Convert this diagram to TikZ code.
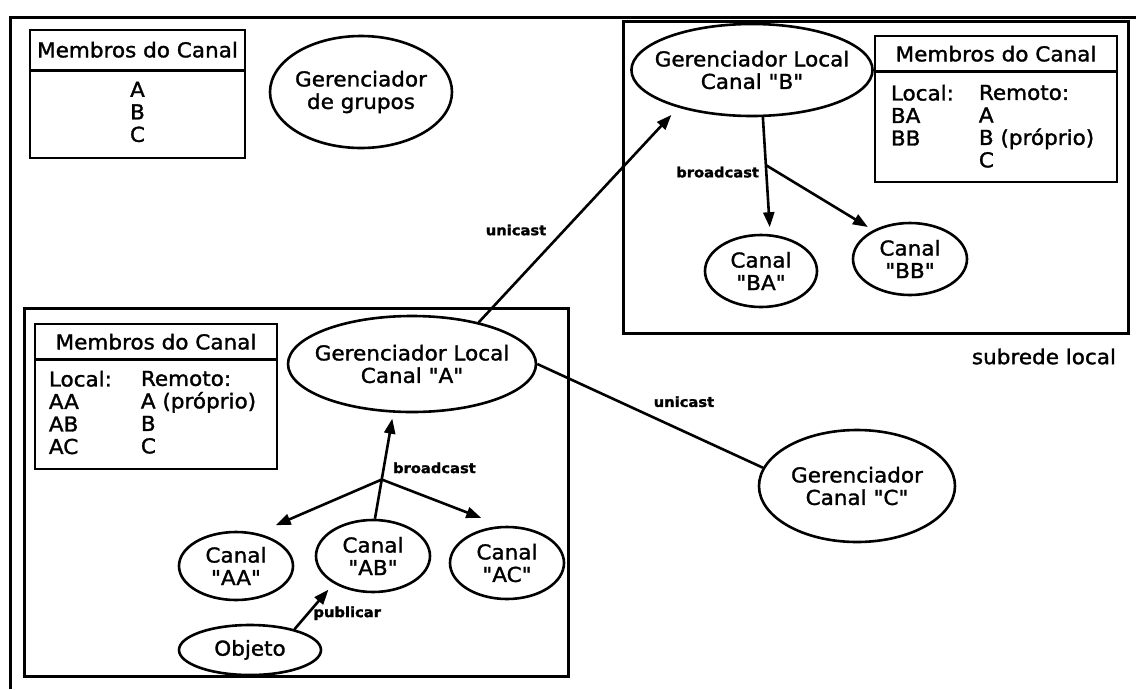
\documentclass[tikz,border=0pt]{standalone}
\usepackage{fontspec}
\setmainfont{DejaVu Sans}[Ligatures=TeXOff,FakeBold=1.5,FakeStretch=1.05]
\usetikzlibrary{arrows.meta,shapes.geometric}

\begin{document}
\begin{tikzpicture}[x=1pt,y=-1pt,
  every node/.style={font=\fontsize{20.5}{22.5}\selectfont},
  elipse/.style={draw,ellipse,line width=2.6pt,align=center,inner xsep=-12pt,inner ysep=0pt},
  tabela/.style={draw,rectangle,line width=2.6pt,inner sep=0pt},
  subrede/.style={draw,rectangle,line width=3pt,inner sep=0pt},
  linha/.style={line width=2.6pt},
  seta/.style={line width=2.6pt,-{Triangle[length=15pt,width=11pt]}},
  rotulo/.style={font=\fontsize{14}{16}\selectfont\bfseries,inner sep=2pt}]

  \useasboundingbox (0,0) rectangle (1136,689);
  \draw [line width=3pt] (10,689) -- (10,17) -- (1136,17);

  % membros (topo)
  \node [tabela,minimum width=215pt,minimum height=128pt] (tabG) at (137.5,94) {};
  \draw [linha] ([yshift=-42pt]tabG.north west) -- ([yshift=-42pt]tabG.north east);
  \node (titG) at ([yshift=-21pt]tabG.north) {Membros do Canal};
  \node [align=center] (listaG) at ([yshift=-18pt]tabG.center) {A\\B\\C};

  \node [elipse,minimum width=182pt,minimum height=112pt] (grupos) at (361,92) {Gerenciador\\de grupos};

  % subrede do canal B
  \node [subrede,minimum width=505pt,minimum height=312pt] (redeB) at (875.5,177) {};
  \node [anchor=east] (rotRede) at ([xshift=-10pt,yshift=-22pt]redeB.south east) {subrede local};

  \node [elipse,minimum width=238pt,minimum height=92pt] (gerB) at (752,70) {Gerenciador Local\\Canal "B"};
  \node [tabela,minimum width=242pt,minimum height=146pt] (tabB) at (996,109) {};
  \draw [linha] ([yshift=-37pt]tabB.north west) -- ([yshift=-37pt]tabB.north east);
  \node (titB) at ([yshift=-19pt]tabB.north) {Membros do Canal};
  \node [align=left,anchor=north west,inner sep=0pt] (localB) at ([xshift=17pt,yshift=-50pt]tabB.north west) {Local:\\BA\\BB};
  \node [align=left,anchor=north west,inner sep=0pt] (remotoB) at ([xshift=105pt,yshift=-50pt]tabB.north west) {Remoto:\\A\\B (próprio)\\C};

  \node [elipse,minimum width=112pt,minimum height=72pt] (canalBA) at (761,271) {Canal\\"BA"};
  \node [elipse,minimum width=114pt,minimum height=72pt] (canalBB) at (910,259) {Canal\\"BB"};

  \draw [seta,shorten >=7pt] (gerB.283) -- (canalBA.76) coordinate[pos=0.41] (ramoB)
    node [rotulo,pos=0.47,left=4pt] (broadB) {broadcast};
  \draw [seta,shorten >=6pt] (ramoB) -- (canalBB.142);

  % subrede do canal A
  \node [subrede,minimum width=544pt,minimum height=368pt] (redeA) at (296,492) {};

  \node [tabela,minimum width=242pt,minimum height=145pt] (tabA) at (156,396.5) {};
  \draw [linha] ([yshift=-37pt]tabA.north west) -- ([yshift=-37pt]tabA.north east);
  \node (titA) at ([yshift=-19pt]tabA.north) {Membros do Canal};
  \node [align=left,anchor=north west,inner sep=0pt] (localA) at ([xshift=15pt,yshift=-48pt]tabA.north west) {Local:\\AA\\AB\\AC};
  \node [align=left,anchor=north west,inner sep=0pt] (remotoA) at ([xshift=107pt,yshift=-48pt]tabA.north west) {Remoto:\\A (próprio)\\B\\C};

  \node [elipse,minimum width=248pt,minimum height=96pt] (gerA) at (412,364) {Gerenciador Local\\Canal "A"};
  \node [elipse,minimum width=114pt,minimum height=68pt] (canalAA) at (236,566) {Canal\\"AA"};
  \node [elipse,minimum width=114pt,minimum height=72pt] (canalAB) at (373,556) {Canal\\"AB"};
  \node [elipse,minimum width=114pt,minimum height=72pt] (canalAC) at (507,563) {Canal\\"AC"};
  \node [elipse,minimum width=142pt,minimum height=50pt] (objeto) at (250,650) {Objeto};

  \draw [seta,shorten >=6pt] (canalAB.87) -- (gerA.249) coordinate[pos=0.37] (ramoA)
    node [rotulo,pos=0.48,right=6pt] (broadA) {broadcast};
  \draw [seta,shorten >=20pt] (ramoA) -- (canalAA.57);
  \draw [seta,shorten >=22pt] (ramoA) -- (canalAC.98);
  \draw [seta,shorten >=8pt] (objeto.25) -- (canalAB.215)
    node [rotulo,pos=0.35,right=2pt] (publicar) {publicar};

  % gerenciador C
  \node [elipse,minimum width=196pt,minimum height=112pt] (gerC) at (857,486) {Gerenciador\\Canal "C"};

  \draw [seta,shorten >=10pt] (gerA.32) -- (gerB.207)
    node [rotulo,pos=0.43,left=15pt] (uniB) {unicast};
  \draw [linha] (gerA.east) -- (gerC.169)
    node [rotulo,pos=0.65,above=21pt] (uniC) {unicast};
\end{tikzpicture}
\end{document}
